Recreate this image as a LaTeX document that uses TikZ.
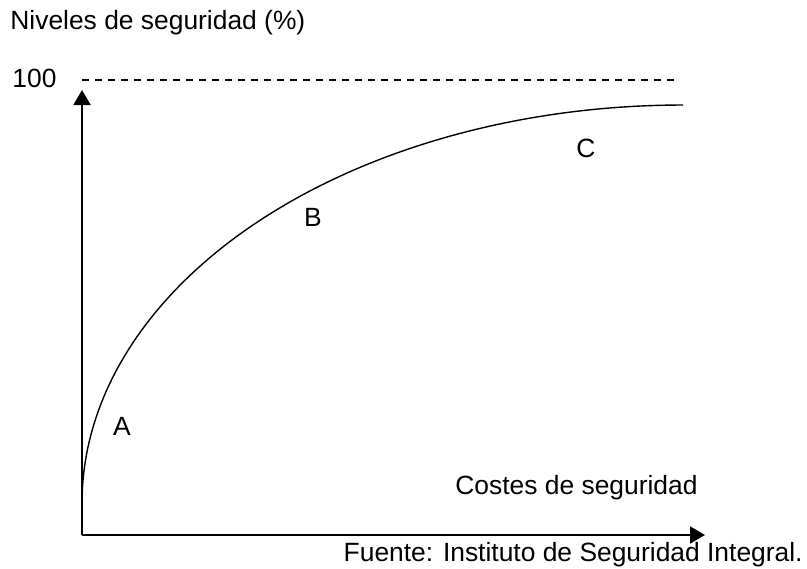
\documentclass[tikz,border=0pt]{standalone}
\usepackage{fontspec}
\setmainfont{Liberation Sans}
\usetikzlibrary{arrows.meta}
\begin{document}
\begin{tikzpicture}[
    x=0.5pt, y=-0.5pt,
    every node/.style={font=\fontsize{13.2}{15}\selectfont, inner sep=0pt},
    eje/.style={line width=1pt, -{Triangle[length=7.5pt,width=8.5pt]}},
    tope/.style={line width=0.65pt, dash pattern=on 3.5pt off 3pt},
    curva/.style={line width=0.7pt}
    ]
	\useasboundingbox (0,0) rectangle (807,568);
	\coordinate (origen) at (82,535);
	\coordinate (ytip) at (82,90);
	\coordinate (xtip) at (705,535);
	\coordinate (dfin) at (677,80);
	\node [anchor=base west] (ylabel) at (10,29) {Niveles de seguridad (\%)};
	\node [anchor=west] (cien) at (12,78) {100};
	\coordinate (dini) at (82,80);
	\draw[tope] (dini) -- (dfin);
	\draw[eje] (origen) -- (ytip);
	\draw[eje] (origen) -- (xtip);
	% curva de seguridad
	\draw[curva] plot[domain=180:90, samples=80, smooth] ({683+601*cos(\x)},{503-398*sin(\x)});
	\node (a) at (122,426) {A};
	\node (b) at (313,217) {B};
	\node (c) at (586,148) {C};
	\node [anchor=base west] (xlabel) at (455,494) {Costes de seguridad};
	\node [anchor=base east] (fuente) at (803,561) {Fuente: Instituto de Seguridad Integral.};
\end{tikzpicture}
\end{document}
